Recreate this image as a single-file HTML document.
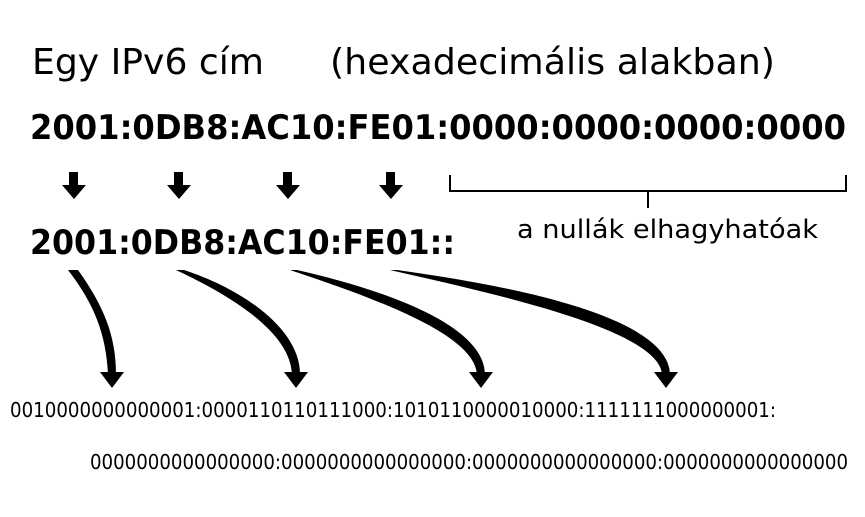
<!DOCTYPE html>
<html><head><meta charset="utf-8"><style>html,body{margin:0;padding:0;background:#fff}</style></head>
<body>
<svg width="865" height="512" viewBox="0 0 865 512" xmlns="http://www.w3.org/2000/svg" font-family="DejaVu Sans, Liberation Sans, sans-serif">
<rect width="865" height="512" fill="#fff"/>
<text x="32" y="74" font-size="36" textLength="232" lengthAdjust="spacingAndGlyphs">Egy IPv6 cím</text>
<text x="330" y="74" font-size="36" textLength="445" lengthAdjust="spacingAndGlyphs">(hexadecimális alakban)</text>
<text x="30" y="139" font-size="34" font-weight="bold" textLength="816" lengthAdjust="spacingAndGlyphs">2001:0DB8:AC10:FE01:0000:0000:0000:0000</text>
<text x="30" y="254" font-size="34" font-weight="bold" textLength="425" lengthAdjust="spacingAndGlyphs">2001:0DB8:AC10:FE01::</text>
<g fill="#000">
<path d="M69 172h9v13h8l-12 14-12-14h7z"/>
<path d="M174 172h9v13h8l-12 14-12-14h7z"/>
<path d="M283 172h9v13h8l-12 14-12-14h7z"/>
<path d="M386 172h9v13h8l-12 14-12-14h7z"/>
</g>
<path d="M450 175v16h396v-16M648 191v17" fill="none" stroke="#000" stroke-width="2"/>
<text x="517" y="238" font-size="26" textLength="301" lengthAdjust="spacingAndGlyphs">a nullák elhagyhatóak</text>
<g fill="#000">
<path d="M68 270 L78 270 C103 305 116 335 116 374 L108 374 C106 335 95 305 68 270z"/>
<path d="M176 270 L184 270 C245 290 300 330 300 374 L292 374 C290 335 240 300 176 270z"/>
<path d="M290 270 L297 270 C385 290 484 325 485 374 L477 374 C474 335 380 300 290 270z"/>
<path d="M390 270 L397 270 C505 285 668 315 670 374 L662 374 C658 330 500 295 390 270z"/>
<path d="M100 372h24l-12 16z"/>
<path d="M284 372h24l-12 16z"/>
<path d="M469 372h24l-12 16z"/>
<path d="M654 372h24l-12 16z"/>
</g>
<text x="10" y="417" font-size="20" textLength="766" lengthAdjust="spacingAndGlyphs">0010000000000001:0000110110111000:1010110000010000:1111111000000001:</text>
<text x="90" y="469" font-size="20" textLength="758" lengthAdjust="spacingAndGlyphs">0000000000000000:0000000000000000:0000000000000000:0000000000000000</text>
</svg>
</body></html>
